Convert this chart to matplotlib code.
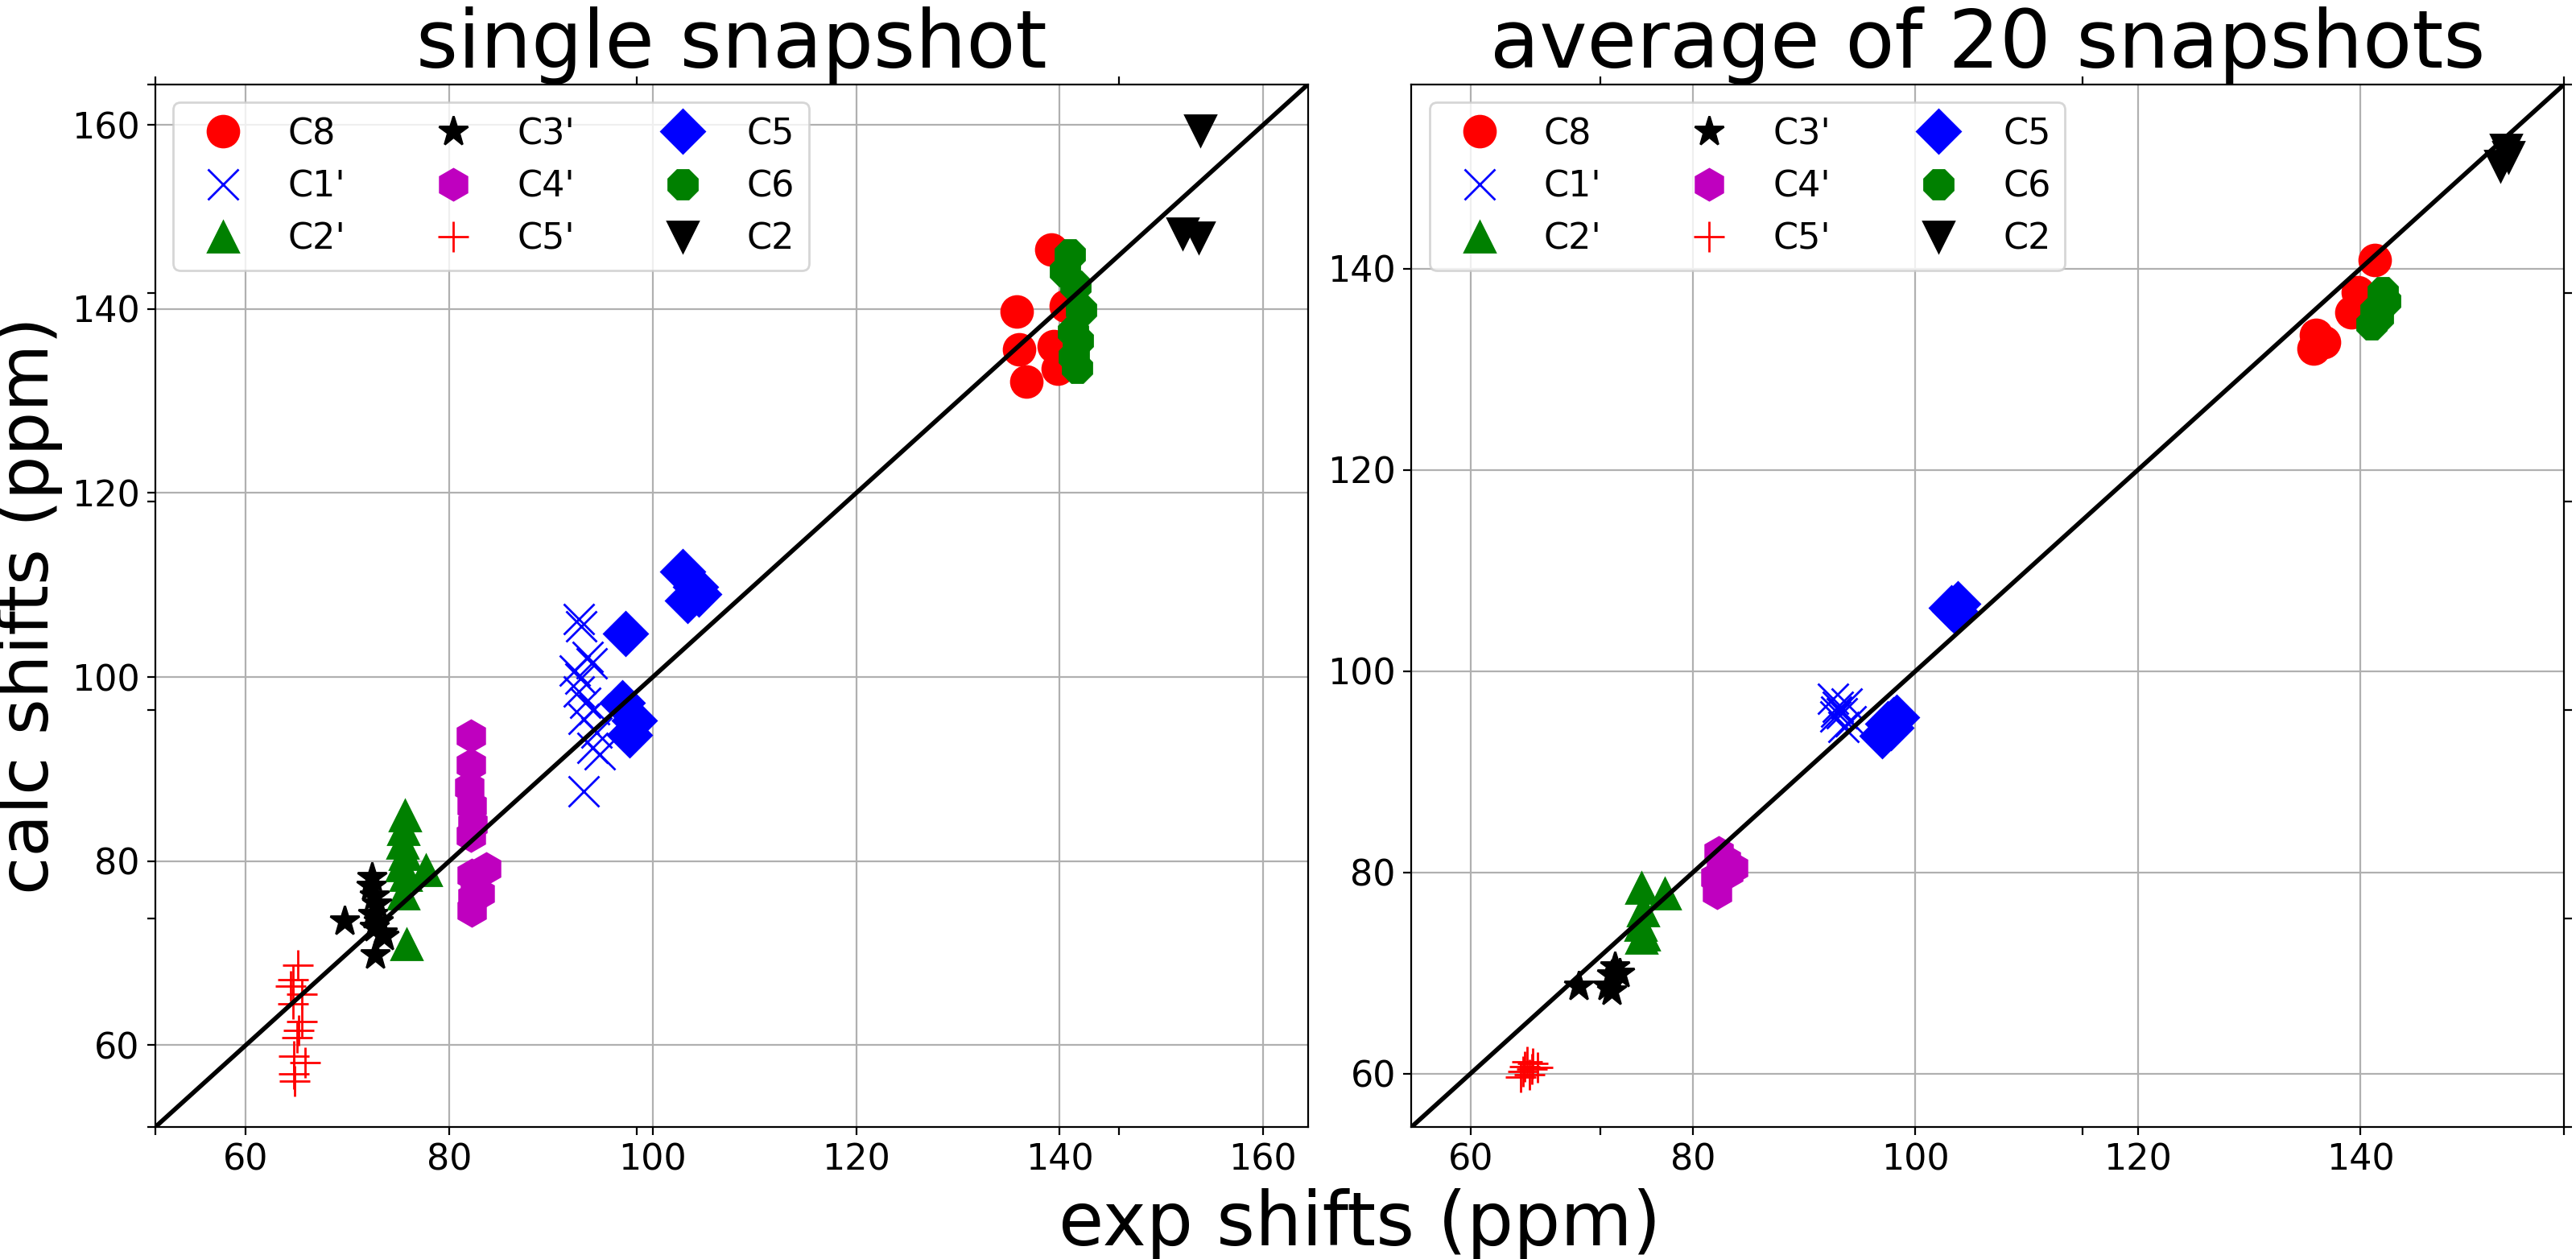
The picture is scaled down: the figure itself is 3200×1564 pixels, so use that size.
import numpy as np
import matplotlib
matplotlib.use('Agg')
import matplotlib.pyplot as plt

plt.rcParams['font.size'] = 16

# ---- single snapshot: (exp, calc) per carbon ----
c8_exp_1 = [139.2, 135.8, 136.0, 136.7, 139.4, 139.8, 140.6]
c8_calc_1 = [146.5, 139.7, 135.6, 132.1, 136.0, 133.5, 140.3]
c1p_exp_1 = [92.7, 93.0, 93.6, 94.0, 92.3, 92.9, 92.7, 93.4, 94.2, 93.2, 94.5, 94.1, 94.8, 93.2]
c1p_calc_1 = [106.3, 105.5, 102.2, 101.5, 100.7, 99.8, 98.4, 97.2, 96.5, 95.5, 94.0, 92.3, 91.6, 87.6]
c2p_exp_1 = [75.6, 75.5, 75.4, 75.6, 75.3, 75.7, 75.5, 77.7, 75.8]
c2p_calc_1 = [85.0, 83.5, 82.0, 80.8, 79.5, 78.5, 76.5, 79.0, 71.0]
c3p_exp_1 = [69.7, 72.4, 72.3, 72.6, 72.9, 72.5, 73.0, 72.6, 73.4, 73.6, 72.7]
c3p_calc_1 = [73.5, 78.2, 77.3, 76.2, 75.3, 74.2, 73.4, 72.8, 72.2, 71.8, 69.8]
c4p_exp_1 = [82.1, 82.1, 82.0, 82.2, 82.3, 82.1, 83.6, 82.2, 82.5, 83.0, 82.3, 82.2]
c4p_calc_1 = [93.6, 90.5, 88.0, 86.0, 84.0, 82.8, 79.2, 78.5, 77.3, 76.5, 76.0, 74.6]
c5p_exp_1 = [65.1, 64.6, 64.4, 65.5, 64.6, 65.5, 65.2, 65.0, 64.7, 65.8, 64.7, 64.8]
c5p_calc_1 = [68.7, 67.1, 66.4, 65.5, 64.5, 62.6, 61.6, 60.8, 58.8, 58.1, 56.9, 56.1]
c5_exp_1 = [102.9, 104.2, 103.4, 104.5, 97.3, 97.0, 98.2, 97.7]
c5_calc_1 = [111.5, 109.8, 108.3, 109.0, 104.7, 97.2, 95.3, 93.7]
c6_exp_1 = [141.0, 140.5, 141.6, 142.1, 141.3, 141.8, 141.4, 141.7]
c6_calc_1 = [145.9, 144.1, 142.5, 139.9, 137.5, 136.6, 134.8, 133.6]
c2_exp_1 = [153.8, 152.1, 153.7]
c2_calc_1 = [159.4, 148.2, 147.8]

# ---- average of 20 snapshots ----
c8_exp_20 = [141.3, 139.8, 139.2, 136.0, 136.7, 135.8]
c8_calc_20 = [140.9, 137.7, 135.7, 133.4, 132.7, 132.1]
c1p_exp_20 = [92.6, 93.0, 93.4, 92.8, 93.8, 94.2, 93.5, 92.9]
c1p_calc_20 = [97.3, 96.5, 95.8, 95.5, 96.8, 95.0, 94.5, 96.0]
c2p_exp_20 = [75.4, 77.5, 75.5, 75.3, 75.6, 75.4]
c2p_calc_20 = [78.5, 77.9, 76.2, 74.8, 73.8, 73.5]
c3p_exp_20 = [69.7, 72.7, 72.3, 73.0, 73.4, 72.7]
c3p_calc_20 = [68.7, 69.8, 68.7, 70.6, 70.0, 68.2]
c4p_exp_20 = [82.3, 83.0, 83.6, 82.0, 82.2, 83.2, 82.5]
c4p_calc_20 = [82.0, 81.2, 80.5, 79.5, 78.0, 80.0, 81.0]
c5p_exp_20 = [65.1, 64.7, 65.5, 64.5, 65.6, 64.9, 65.3, 66.0]
c5p_calc_20 = [61.2, 60.2, 60.5, 59.7, 61.0, 60.7, 59.9, 60.6]
c5_exp_20 = [103.2, 103.8, 103.5, 97.0, 97.5, 98.3, 97.8, 98.0]
c5_calc_20 = [106.3, 106.7, 106.0, 93.6, 94.8, 95.4, 94.4, 95.2]
c6_exp_20 = [142.0, 141.4, 141.0, 142.2, 141.6]
c6_calc_20 = [137.7, 135.8, 134.5, 136.8, 135.2]
c2_exp_20 = [152.6, 153.3, 153.1]
c2_calc_20 = [150.2, 151.1, 151.8]

labels = ['C8', "C1'", "C2'", "C3'", "C4'", "C5'", 'C5', 'C6', 'C2']
styles = ['ro', 'bx', 'g^', 'k*', 'mh', 'r+', 'bD', 'g8', 'kv']

single = [(c8_exp_1, c8_calc_1), (c1p_exp_1, c1p_calc_1), (c2p_exp_1, c2p_calc_1),
          (c3p_exp_1, c3p_calc_1), (c4p_exp_1, c4p_calc_1), (c5p_exp_1, c5p_calc_1),
          (c5_exp_1, c5_calc_1), (c6_exp_1, c6_calc_1), (c2_exp_1, c2_calc_1)]
average = [(c8_exp_20, c8_calc_20), (c1p_exp_20, c1p_calc_20), (c2p_exp_20, c2p_calc_20),
           (c3p_exp_20, c3p_calc_20), (c4p_exp_20, c4p_calc_20), (c5p_exp_20, c5p_calc_20),
           (c5_exp_20, c5_calc_20), (c6_exp_20, c6_calc_20), (c2_exp_20, c2_calc_20)]


def draw_panel(ax, sets, title):
    for (x, y), st, lab in zip(sets, styles, labels):
        ax.plot(x, y, st, markersize=14, label=lab)
    allv = np.concatenate([np.concatenate([x, y]) for x, y in sets])
    lo, hi = allv.min() - 5, allv.max() + 5
    ax.plot([lo, hi], [lo, hi], 'k-', lw=2)
    ax.set_xlim(lo, hi)
    ax.set_ylim(lo, hi)
    ax.grid(True)
    ax.legend(ncol=3, loc='upper left', fontsize=16)
    ax.set_title(title, fontsize=36)


fig, (ax1, ax2) = plt.subplots(1, 2, figsize=(16, 7.82), dpi=200)
fig.subplots_adjust(left=193 / 3200, right=3185 / 3200, top=1 - 105 / 1564,
                    bottom=1 - 1400 / 1564, wspace=0.09)

draw_panel(ax1, single, 'single snapshot')
draw_panel(ax2, average, 'average of 20 snapshots')

# big frameless axes for the shared labels (ticks only, no tick labels)
big = fig.add_subplot(111, frameon=False)
big.tick_params(labelbottom=False, labelleft=False, top=True, bottom=True,
                left=True, right=True)
big.set_xlabel('exp shifts (ppm)', fontsize=33, labelpad=24)
big.set_ylabel('calc shifts (ppm)', fontsize=31, labelpad=38)

fig.savefig('out.png', dpi=200)
